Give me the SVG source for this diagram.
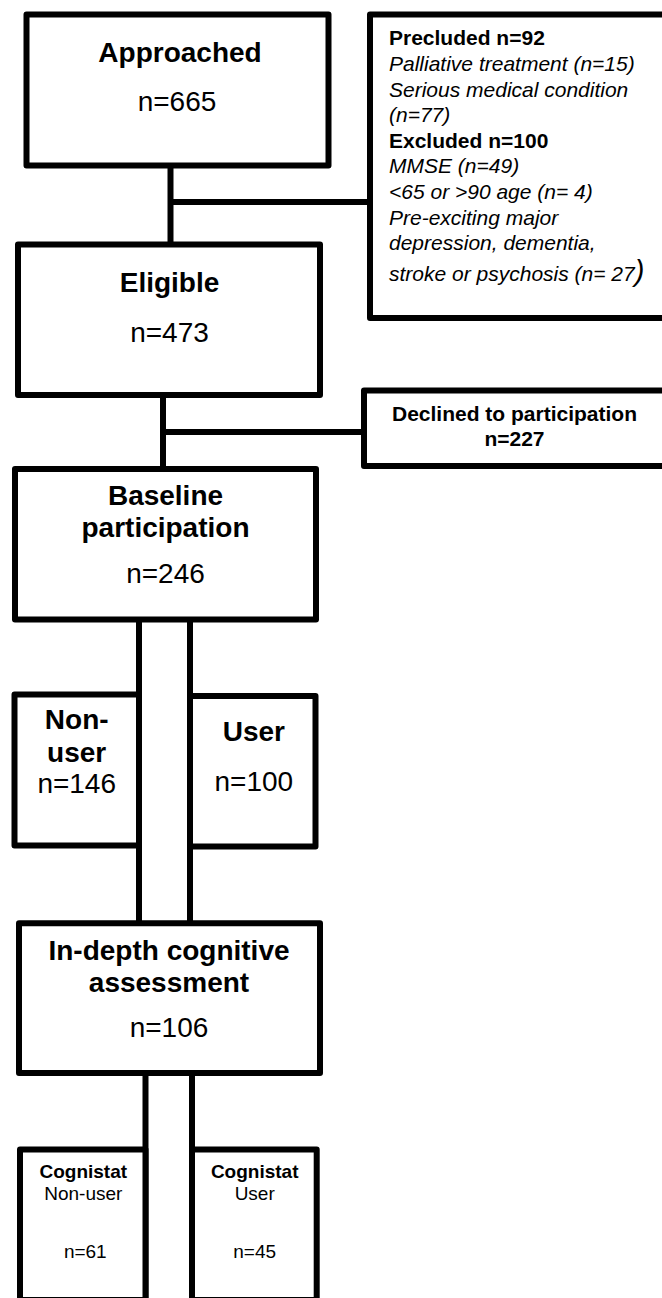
<svg xmlns="http://www.w3.org/2000/svg" width="662" height="1298" viewBox="0 0 662 1298">
<style>
.box{fill:#fff;stroke:#000;stroke-width:6;stroke-linejoin:round}
.ln{stroke:#000;stroke-width:6;fill:none}
text{font-family:"Liberation Sans",Arial,sans-serif;fill:#000}
.t{font-size:28px;font-weight:bold;text-anchor:middle}
.n{font-size:28px;text-anchor:middle}
.s{font-size:21px}
.sb{font-size:21px;font-weight:bold}
.si{font-size:21px;font-style:italic}
.c{font-size:19px;text-anchor:middle}
.cb{font-size:19px;font-weight:bold;text-anchor:middle}
</style>
<rect width="662" height="1298" fill="#fff"/>
<g id="connectors">
<line class="ln" x1="170.5" y1="165" x2="170.5" y2="245"/>
<line class="ln" x1="170.5" y1="202" x2="370" y2="202"/>
<line class="ln" x1="163" y1="395" x2="163" y2="469"/>
<line class="ln" x1="163" y1="432" x2="364" y2="432"/>
<line class="ln" x1="139" y1="619" x2="139" y2="923"/>
<line class="ln" x1="190" y1="619" x2="190" y2="923"/>
<line class="ln" x1="145.5" y1="1073" x2="145.5" y2="1300"/>
<line class="ln" x1="192" y1="1073" x2="192" y2="1300"/>
</g>
<g id="approached">
<rect class="box" x="26.5" y="14.5" width="302" height="151"/>
<text class="t" x="180" y="62">Approached</text>
<text class="n" x="177" y="111">n=665</text>
</g>
<g id="excluded">
<rect class="box" x="370" y="14.5" width="310" height="303.5"/>
<text x="389" y="45" class="sb">Precluded n=92</text>
<text x="389" y="70.7" class="si">Palliative treatment (n=15)</text>
<text x="389" y="96.5" class="si">Serious medical condition</text>
<text x="389" y="122" class="si">(n=77)</text>
<text x="389" y="147.5" class="sb">Excluded n=100</text>
<text x="389" y="173.3" class="si">MMSE (n=49)</text>
<text x="389" y="199" class="si">&lt;65 or &gt;90 age (n= 4)</text>
<text x="389" y="224.5" class="si">Pre-exciting major</text>
<text x="389" y="250" class="si">depression, dementia,</text>
<text x="389" y="281" class="si">stroke or psychosis (n= 27<tspan font-size="29" font-style="italic">)</tspan></text>
</g>
<g id="eligible">
<rect class="box" x="18" y="244.5" width="302" height="150.5"/>
<text class="t" x="169.5" y="291.5">Eligible</text>
<text class="n" x="169.5" y="341.5">n=473</text>
</g>
<g id="declined">
<rect class="box" x="364" y="390.5" width="310" height="75.5"/>
<text class="sb" x="514.5" y="420.7" text-anchor="middle">Declined to participation</text>
<text class="sb" x="514.5" y="445.7" text-anchor="middle">n=227</text>
</g>
<g id="baseline">
<rect class="box" x="15" y="469" width="301" height="150.5"/>
<text class="t" x="165.5" y="505">Baseline</text>
<text class="t" x="165.5" y="537">participation</text>
<text class="n" x="165.5" y="583.3">n=246</text>
</g>
<g id="nonuser">
<rect class="box" x="14.5" y="694.5" width="124.5" height="151"/>
<text class="t" x="76.7" y="729.3">Non-</text>
<text class="t" x="76.7" y="761.7">user</text>
<text class="n" x="76.7" y="793.3">n=146</text>
</g>
<g id="user">
<rect class="box" x="190" y="696" width="125.5" height="150.5"/>
<text class="t" x="253.8" y="740.7">User</text>
<text class="n" x="253.8" y="790.7">n=100</text>
</g>
<g id="indepth">
<rect class="box" x="19" y="923.3" width="301" height="149.7"/>
<text class="t" x="169" y="960">In-depth cognitive</text>
<text class="t" x="169" y="991.7">assessment</text>
<text class="n" x="169" y="1037.3">n=106</text>
</g>
<g id="cognistat-nonuser">
<rect class="box" x="20" y="1149.5" width="125.5" height="150.5"/>
<text class="cb" x="83.3" y="1178.3">Cognistat</text>
<text class="c" x="83.3" y="1200">Non-user</text>
<text class="c" x="85.3" y="1258.3" font-size="20">n=61</text>
</g>
<g id="cognistat-user">
<rect class="box" x="192" y="1149.5" width="124.7" height="150.5"/>
<text class="cb" x="254.7" y="1178.3">Cognistat</text>
<text class="c" x="254.7" y="1200">User</text>
<text class="c" x="254.7" y="1258.3" font-size="20">n=45</text>
</g>
</svg>
